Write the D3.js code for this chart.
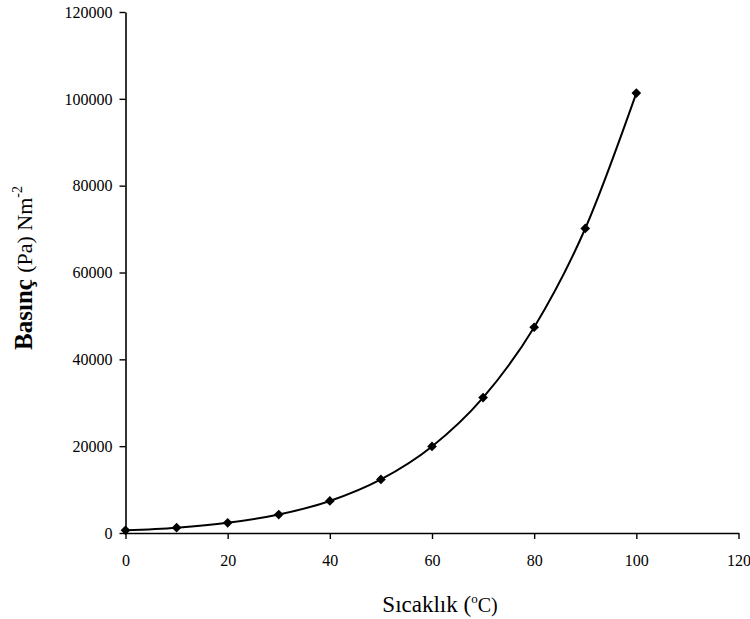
<!DOCTYPE html>
<html>
<head>
<meta charset="utf-8">
<script src="https://cdn.jsdelivr.net/npm/d3@7"></script>
<style>
  body { margin: 0; background: #fff; }
  svg text { font-family: "Liberation Serif", "Times New Roman", serif; fill: #000; }
</style>
</head>
<body>
<svg id="chart" width="750" height="619"></svg>
<script>
    // data
    var temperatures = [0, 10, 20, 30, 40, 50, 60, 70, 80, 90, 100];
    var pressures = [611, 1228, 2339, 4246, 7384, 12350, 19940, 31190, 47390, 70140, 101325];
    var xTicks = [0, 20, 40, 60, 80, 100, 120];
    var yTicks = [0, 20000, 40000, 60000, 80000, 100000, 120000];

    (function () {
        'use strict';

        var svg = d3.select('#chart');
        var plotLeft = 125.5, plotRight = 738.5, plotTop = 12, plotBottom = 533;

        var x = d3.scaleLinear().domain([0, 120]).range([plotLeft, plotRight]);
        var y = d3.scaleLinear().domain([0, 120000]).range([plotBottom, plotTop]);

        var points = temperatures.map(function (t, i) {
            return { t: t, p: pressures[i] };
        });

        // axes
        var xAxis = svg.append('g')
            .attr('transform', 'translate(0,' + plotBottom + ')')
            .call(d3.axisBottom(x).tickValues(xTicks).tickSize(6).tickSizeOuter(0));
        var yAxis = svg.append('g')
            .attr('transform', 'translate(' + plotLeft + ',0)')
            .call(d3.axisLeft(y).tickValues(yTicks).tickSize(6).tickSizeOuter(0).tickFormat(d3.format('d')));

        [xAxis, yAxis].forEach(function (ax) {
            ax.select('.domain').attr('stroke', '#000').attr('stroke-width', 1.6);
            ax.selectAll('.tick line').attr('stroke', '#000').attr('stroke-width', 1.4);
            ax.selectAll('.tick text')
                .style('font-family', '"Liberation Serif", serif')
                .style('font-size', '16px')
                .attr('fill', '#000');
        });
        xAxis.selectAll('.tick text').attr('dy', '0').attr('y', 33);
        yAxis.selectAll('.tick text').attr('x', -13).attr('dy', '0.33em');

        // curve
        var line = d3.line()
            .x(function (d) { return x(d.t); })
            .y(function (d) { return y(d.p); })
            .curve(d3.curveMonotoneX);

        svg.append('path')
            .datum(points)
            .attr('d', line)
            .attr('fill', 'none')
            .attr('stroke', '#000')
            .attr('stroke-width', 2);

        // diamond markers
        var diamond = d3.symbol().type(d3.symbolDiamond2).size(60);
        svg.append('g').selectAll('path')
            .data(points)
            .enter().append('path')
            .attr('d', diamond)
            .attr('transform', function (d) { return 'translate(' + x(d.t) + ',' + y(d.p) + ')'; })
            .attr('fill', '#000');

        // axis titles
        var xt = svg.append('text')
            .attr('x', 440)
            .attr('y', 612)
            .attr('text-anchor', 'middle')
            .style('font-size', '23px');
        xt.append('tspan').text('Sıcaklık ');
        xt.append('tspan').text('(');
        xt.append('tspan').text('o').style('font-size', '13px').attr('dy', -9);
        xt.append('tspan').text('C)').attr('dy', 9).style('font-size', '20px');

        var yt = svg.append('text')
            .attr('transform', 'translate(32,268) rotate(-90)')
            .attr('text-anchor', 'middle')
            .style('font-size', '25px');
        yt.append('tspan').text('Basınç ').style('font-weight', 'bold');
        yt.append('tspan').text('(Pa) Nm').style('font-size', '22px');
        yt.append('tspan').text('-2').style('font-size', '14px').attr('dy', -10);
    })();
</script>
</body>
</html>
